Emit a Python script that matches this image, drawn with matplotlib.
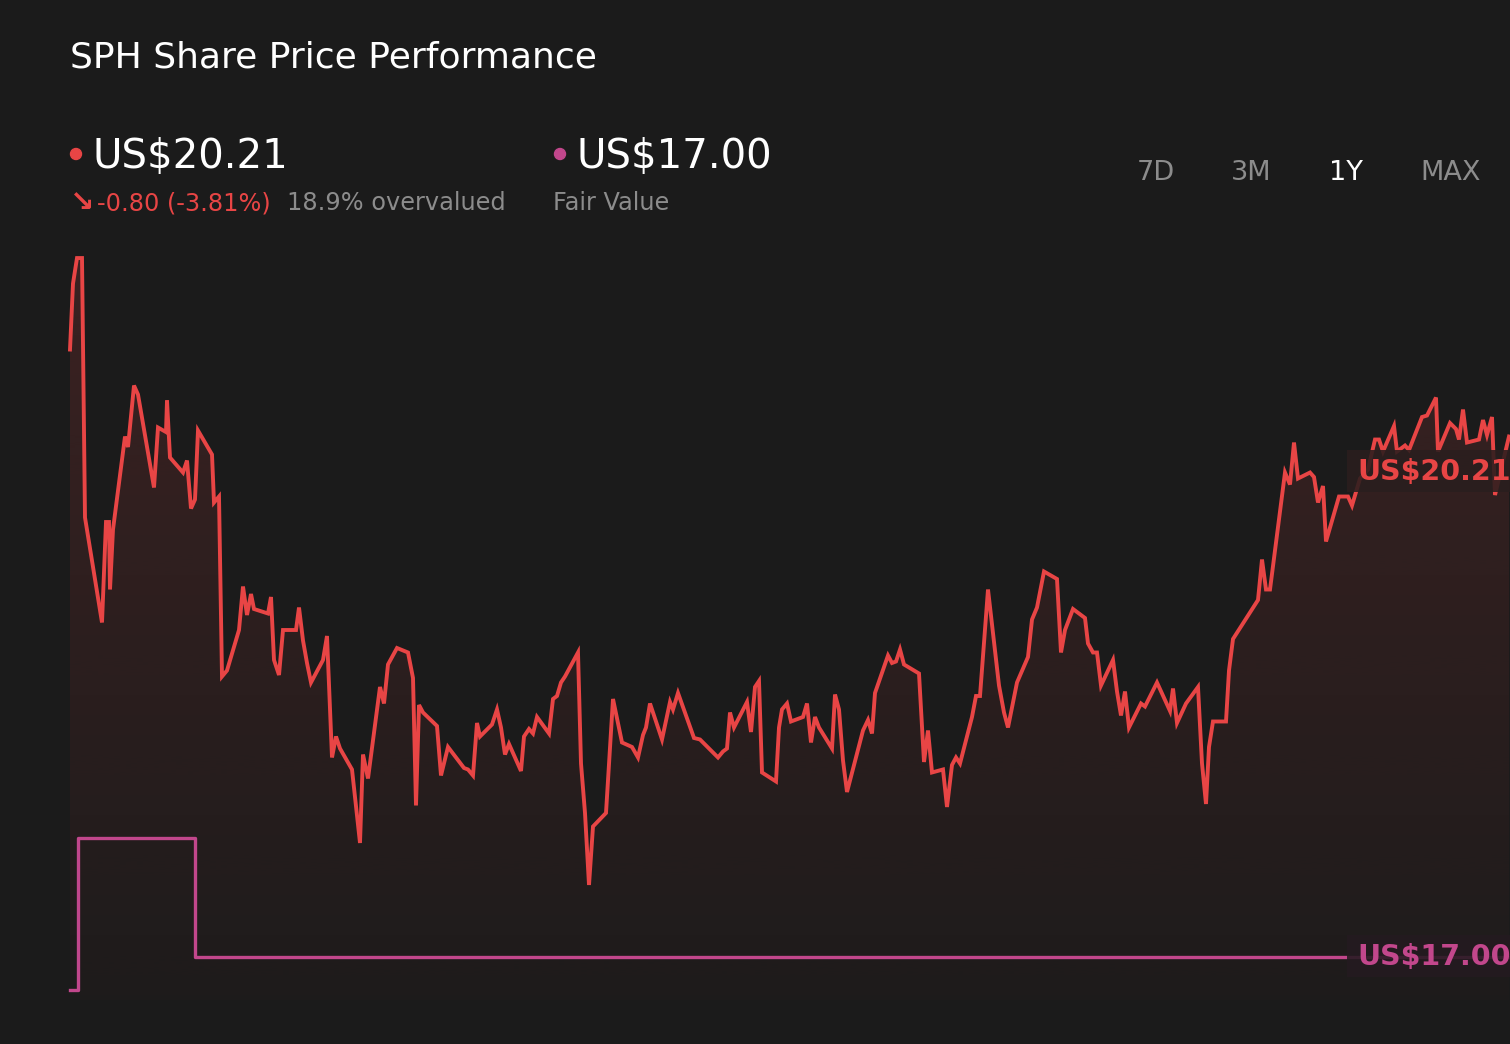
import numpy as np
import matplotlib
matplotlib.use("Agg")
import matplotlib.pyplot as plt
from matplotlib.patches import Polygon, Ellipse, Rectangle

plt.rcParams['font.family'] = ['DejaVu Sans']

# ---------------- data ----------------
days = [0, 0.75, 1.75, 3, 3.75, 8, 9, 9.75, 10, 10.75, 13.75, 14.5, 16, 17, 21, 22, 24, 24.25, 25,
        28.25, 29.25, 30.25, 31.25, 32, 35.5, 36, 37.25, 38, 39.25, 42.25, 43.25, 44.25, 45.25, 46,
        49.5, 50.25, 51, 52.25, 53.25, 56.5, 57.25, 58.25, 59.25, 60.25, 63.25, 64.25, 65.5, 66.5,
        67.5, 70.5, 72.5, 73.25, 74.5, 77.5, 78.5, 79.5, 81.75, 84.5, 85.75, 86.5, 87.25, 88.25,
        91.75, 92.75, 94.5, 98.5, 99.5, 100.75, 101.75, 102.5, 105.5, 106.75, 107.75, 108.75, 109.75,
        112.75, 113.5, 114.75, 115.75, 116.75, 119.75, 120.75, 121.75, 122.75, 123.75, 127, 127.75,
        128.75, 129.75, 130.75, 134, 135.75, 138, 140.5, 142, 143.25, 144, 145, 148, 150, 150.75,
        152, 156, 157.5, 162, 163.25, 164.25, 165, 166, 169.25, 170.25, 171.25, 172.25, 173, 176.5,
        177.25, 178, 179.25, 180.25, 183.25, 184.25, 185.25, 186.25, 187.25, 190.5, 191.25, 192.25,
        193.25, 194.25, 198.25, 199.5, 200.5, 201.25, 204.5, 205.5, 206.5, 207.5, 208.5, 212.25,
        213.5, 214.5, 215.5, 218.25, 219.25, 220.5, 221.5, 222.5, 225.5, 226.5, 227.5, 229.5, 232.25,
        233.5, 234.5, 236.75, 239.5, 240.5, 241.75, 243.5, 246.75, 247.75, 248.75, 250.75, 253.75,
        254.5, 255.75, 256.75, 257.75, 260.75, 261.75, 262.75, 263.75, 264.75, 267.75, 268.75,
        271.75, 275, 275.75, 276.75, 279, 282, 283, 284, 284.75, 285.75, 289, 289.75, 290.75, 297,
        298, 299, 300, 303.75, 305, 306, 307, 310, 311, 312, 313.25, 314, 317.25, 319.5, 320.5,
        322.5, 324.5, 326.25, 327.25, 328.25, 331, 331.75, 333.75, 334.75, 338, 339.25, 341.5, 342,
        345, 346.5, 347.25, 348.25, 349.25, 352.25, 353.25, 354.25, 355.5, 356.25, 359.75]

prices = [21.05, 21.49, 21.66, 21.66, 19.93, 19.23, 19.90, 19.90, 19.45, 19.85, 20.47, 20.40, 20.81,
          20.75, 20.13, 20.53, 20.50, 20.71, 20.33, 20.23, 20.31, 19.99, 20.05, 20.51, 20.35, 20.03,
          20.07, 18.87, 18.91, 19.18, 19.47, 19.28, 19.42, 19.32, 19.29, 19.40, 18.98, 18.88, 19.18,
          19.18, 19.33, 19.11, 18.96, 18.83, 18.98, 19.14, 18.33, 18.47, 18.39, 18.25, 17.76, 18.35,
          18.19, 18.80, 18.69, 18.95, 19.06, 19.03, 18.86, 18.01, 18.68, 18.63, 18.54, 18.21, 18.40,
          18.26, 18.25, 18.21, 18.56, 18.47, 18.55, 18.65, 18.53, 18.35, 18.42, 18.24, 18.47, 18.52,
          18.49, 18.60, 18.49, 18.72, 18.74, 18.83, 18.87, 19.03, 18.29, 17.96, 17.48, 17.87, 17.96,
          18.72, 18.43, 18.40, 18.33, 18.48, 18.53, 18.69, 18.45, 18.70, 18.65, 18.76, 18.46, 18.45,
          18.33, 18.37, 18.39, 18.63, 18.53, 18.70, 18.50, 18.80, 18.84, 18.23, 18.17, 18.53, 18.65,
          18.69, 18.57, 18.60, 18.69, 18.43, 18.60, 18.53, 18.39, 18.75, 18.65, 18.31, 18.10, 18.51,
          18.58, 18.49, 18.76, 19.01, 18.96, 18.97, 19.05, 18.95, 18.89, 18.30, 18.51, 18.23, 18.25,
          18.00, 18.28, 18.33, 18.29, 18.60, 18.74, 18.74, 19.45, 18.81, 18.63, 18.53, 18.83, 19.00,
          19.25, 19.33, 19.57, 19.52, 19.03, 19.18, 19.32, 19.26, 19.09, 19.03, 19.03, 18.81, 18.98,
          18.77, 18.61, 18.77, 18.53, 18.69, 18.67, 18.83, 18.64, 18.79, 18.56, 18.69, 18.80, 18.29,
          18.02, 18.40, 18.57, 18.57, 18.91, 19.12, 19.38, 19.65, 19.45, 19.45, 20.23, 20.15, 20.43,
          20.19, 20.23, 20.20, 20.03, 20.14, 19.77, 20.07, 20.07, 20.01, 20.19, 20.25, 20.45, 20.45,
          20.37, 20.54, 20.37, 20.41, 20.38, 20.60, 20.61, 20.73, 20.37, 20.56, 20.52, 20.45, 20.65,
          20.43, 20.45, 20.58, 20.48, 20.60, 20.08, 20.47]

fv_days = [0, 2, 31.25, 360]
fv_values = [16.78, 17.79, 17.00, 17.00]

last_price = 20.21
fair_value = 17.00
change_text = "-0.80 (-3.81%)"
valuation_text = "18.9% overvalued"
periods = ["7D", "3M", "1Y", "MAX"]

# ---------------- style ----------------
BG = '#1b1b1b'
RED = '#e84545'
MAG = '#c2478c'
GRAY = '#8c8c8c'
W, H = 1510, 1044

fig = plt.figure(figsize=(W / 100, H / 100), dpi=100, facecolor=BG)

def fx(x):
    return x / W

def fy(y):
    return 1 - y / H

ax = fig.add_axes([fx(70), fy(1000), 1440 / W, 770 / H])
ax.set_facecolor('none')
ax.axis('off')
X0, X1 = 0, 360
Y0, Y1 = 16.713, 21.847

# gradient fill under price line
verts = list(zip(days, prices)) + [(days[-1], Y0), (days[0], Y0)]
poly = Polygon(verts, closed=True, facecolor='none', edgecolor='none')
ax.add_patch(poly)
n = 256
alpha = np.linspace(0.16, 0.015, n).reshape(-1, 1)
rgba = np.zeros((n, 1, 4))
rgba[..., 0] = 232 / 255
rgba[..., 1] = 69 / 255
rgba[..., 2] = 69 / 255
rgba[..., 3] = alpha
im = ax.imshow(rgba, extent=[days[0], days[-1], Y0, max(prices)], aspect='auto',
               origin='upper', zorder=1, interpolation='bilinear')
im.set_clip_path(poly)

ax.plot(days, prices, color=RED, lw=2.8, zorder=3, solid_joinstyle='miter', clip_on=False)
ax.plot(fv_days, fv_values, color=MAG, lw=2.4, zorder=3, drawstyle='steps-post', clip_on=False)

# value labels at right
for val, col, face, dy in [(last_price, RED, '#2a1e1e', 0.03), (fair_value, MAG, '#241a20', 0.005)]:
    ax.add_patch(Rectangle((319.25, val + dy - 0.14), 60, 0.28, facecolor=face, edgecolor='none',
                           alpha=0.88, zorder=4, clip_on=False))
    ax.text(321.75, val + dy - 0.057, f"US${val:.2f}", color=col, fontsize=20.5, fontweight='bold',
            va='baseline', ha='left', zorder=5, clip_on=False)

ax.set_xlim(X0, X1)
ax.set_ylim(Y0, Y1)

# ---------------- header ----------------
fig.text(fx(70), fy(68), "SPH Share Price Performance", color='white', fontsize=26,
         ha='left', va='baseline')

fig.add_artist(Ellipse((fx(76), fy(154)), 11 / W, 11 / H, color=RED))
fig.add_artist(Ellipse((fx(560), fy(154)), 11 / W, 11 / H, color=MAG))
fig.text(fx(93), fy(168), f"US${last_price:.2f}", color='white', fontsize=29,
         ha='left', va='baseline')
fig.text(fx(577), fy(168), f"US${fair_value:.2f}", color='white', fontsize=29,
         ha='left', va='baseline')

fig.text(fx(70), fy(211), "\u2198", color=RED, fontsize=21, fontweight='bold',
         ha='left', va='baseline')
fig.text(fx(97), fy(210), change_text, color=RED, fontsize=17.3, ha='left', va='baseline')
fig.text(fx(287), fy(210), valuation_text, color=GRAY, fontsize=17.3, ha='left', va='baseline')
fig.text(fx(553), fy(210), "Fair Value", color=GRAY, fontsize=17.3, ha='left', va='baseline')

for lab, xpos in zip(periods, [1137, 1231, 1329, 1420]):
    fig.text(fx(xpos), fy(180), lab, color='white' if lab == '1Y' else GRAY, fontsize=19.5,
             ha='left', va='baseline')

fig.savefig('out.png', dpi=100, facecolor=BG)
